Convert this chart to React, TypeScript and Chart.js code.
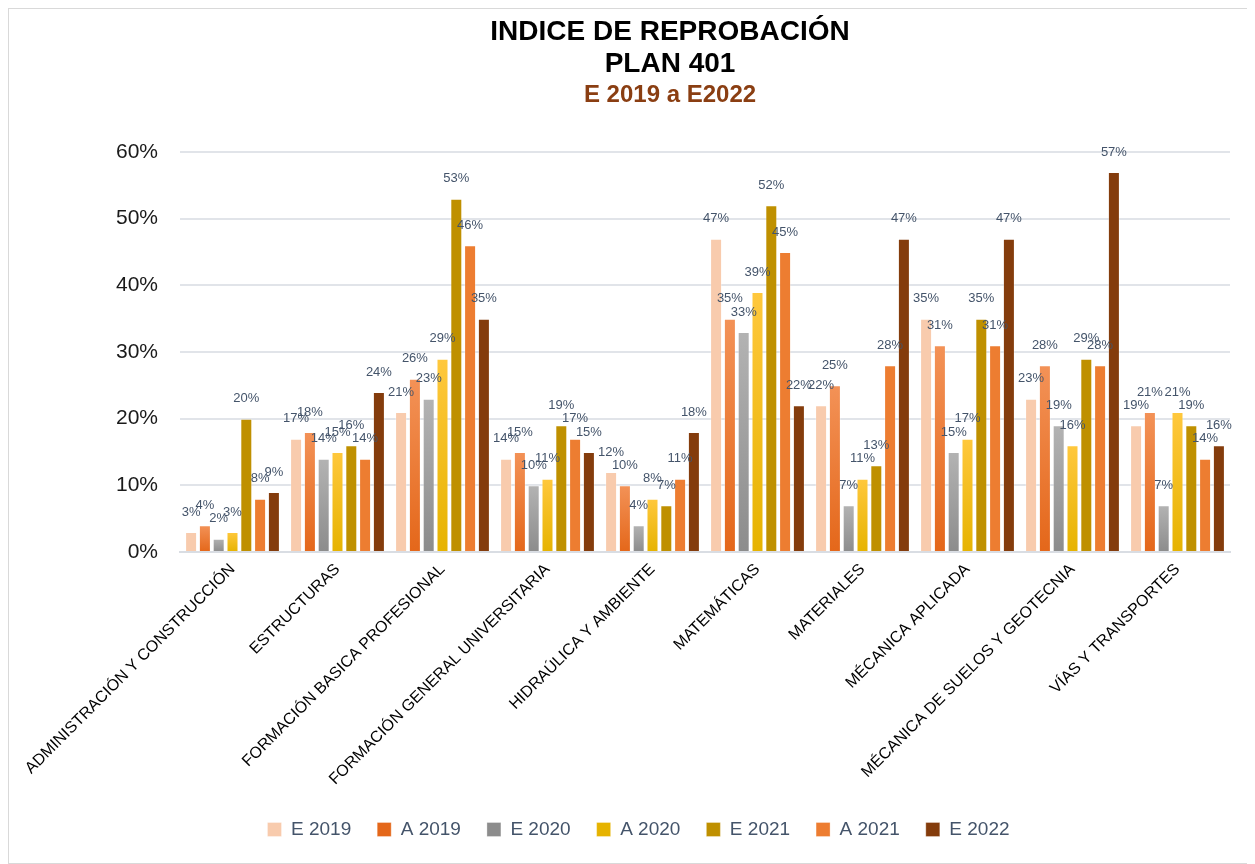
import React, { useEffect, useRef } from "react";
import { Chart, registerables } from "chart.js";

Chart.register(...registerables);

const titleLines = ["INDICE DE REPROBACIÓN", "PLAN 401"];
const subtitleText = "E 2019 a E2022";

const categories = [
  "ADMINISTRACIÓN Y CONSTRUCCIÓN",
  "ESTRUCTURAS",
  "FORMACIÓN BASICA PROFESIONAL",
  "FORMACIÓN GENERAL UNIVERSITARIA",
  "HIDRAÚLICA Y AMBIENTE",
  "MATEMÁTICAS",
  "MATERIALES",
  "MÉCANICA APLICADA",
  "MÉCANICA DE SUELOS Y GEOTECNIA",
  "VÍAS Y TRANSPORTES",
];

const seriesNames = ["E 2019", "A 2019", "E 2020", "A 2020", "E 2021", "A 2021", "E 2022"];

const e2019 = [3, 17, 21, 14, 12, 47, 22, 35, 23, 19];
const a2019 = [4, 18, 26, 15, 10, 35, 25, 31, 28, 21];
const e2020 = [2, 14, 23, 10, 4, 33, 7, 15, 19, 7];
const a2020 = [3, 15, 29, 11, 8, 39, 11, 17, 16, 21];
const e2021 = [20, 16, 53, 19, 7, 52, 13, 35, 29, 19];
const a2021 = [8, 14, 46, 17, 11, 45, 28, 31, 28, 14];
const e2022 = [9, 24, 35, 15, 18, 22, 47, 47, 57, 16];

const yMin = 0;
const yMax = 60;
const yStep = 10;

function vgrad(top: string, bottom: string, solid: string) {
  return (c: any) => {
    const chart = c.chart;
    if (c.type !== "data" || !chart.chartArea || !chart.scales || !chart.scales.y) return solid;
    const y = chart.scales.y;
    const v = c.raw as number;
    const yTop = y.getPixelForValue(v);
    const yBot = y.getPixelForValue(0);
    if (!isFinite(yTop) || !isFinite(yBot) || Math.abs(yTop - yBot) < 1) return solid;
    const g = chart.ctx.createLinearGradient(0, yTop, 0, yBot);
    g.addColorStop(0, top);
    g.addColorStop(1, bottom);
    return g;
  };
}

const titlePlugin = {
  id: "customTitle",
  afterDraw(chart: any) {
    const ctx = chart.ctx;
    ctx.save();
    ctx.textAlign = "center";
    ctx.textBaseline = "middle";
    ctx.fillStyle = "#000000";
    ctx.font = 'bold 28px "Liberation Sans", Arial, sans-serif';
    ctx.fillText(titleLines[0], 661, 23);
    ctx.fillText(titleLines[1], 661, 55);
    ctx.fillStyle = "#8A3E12";
    ctx.font = 'bold 24px "Liberation Sans", Arial, sans-serif';
    ctx.fillText(subtitleText, 661, 86);
    ctx.restore();
  },
};

const legendShiftPlugin = {
  id: "legendShift",
  afterLayout(chart: any) {
    const lg = chart.legend;
    if (lg) {
      lg.left += 19;
      lg.right += 19;
    }
  },
};

const barLabelPlugin = {
  id: "barLabels",
  afterDatasetsDraw(chart: any) {
    const ctx = chart.ctx;
    ctx.save();
    ctx.font = '13px "Liberation Sans", Arial, sans-serif';
    ctx.fillStyle = "#44546A";
    ctx.textAlign = "center";
    ctx.textBaseline = "middle";
    chart.data.datasets.forEach((ds: any, i: number) => {
      const meta = chart.getDatasetMeta(i);
      meta.data.forEach((el: any, j: number) => {
        ctx.fillText(ds.data[j] + "%", el.x, el.y - 20);
      });
    });
    ctx.restore();
  },
};

export default function App() {
  const ref = useRef<HTMLCanvasElement | null>(null);

  useEffect(() => {
    if (!ref.current) return;
    const border = "rgba(255,255,255,0.3)";
    const chart = new Chart(ref.current, {
      type: "bar",
      data: {
        labels: categories,
        datasets: [
          { label: seriesNames[0], data: e2019, backgroundColor: "#F8CBAD", borderColor: border, borderWidth: 1 },
          { label: seriesNames[1], data: a2019, backgroundColor: vgrad("#F39257", "#E4671A", "#EE7B32"), borderColor: border, borderWidth: 1 },
          { label: seriesNames[2], data: e2020, backgroundColor: vgrad("#B3B3B3", "#8C8C8C", "#A5A5A5"), borderColor: border, borderWidth: 1 },
          { label: seriesNames[3], data: a2020, backgroundColor: vgrad("#FFC83D", "#E6B300", "#FFC000"), borderColor: border, borderWidth: 1 },
          { label: seriesNames[4], data: e2021, backgroundColor: "#BF9000", borderColor: border, borderWidth: 1 },
          { label: seriesNames[5], data: a2021, backgroundColor: "#ED7D31", borderColor: border, borderWidth: 1 },
          { label: seriesNames[6], data: e2022, backgroundColor: "#843C0C", borderColor: border, borderWidth: 1 },
        ],
      },
      options: {
        responsive: false,
        animation: false,
        layout: { padding: { top: 143, right: 24, bottom: 14, left: 0 } },
        datasets: {
          bar: { categoryPercentage: 0.92, barPercentage: 0.87 },
        },
        plugins: {
          title: { display: false },
          tooltip: { enabled: false },
          legend: {
            position: "bottom",
            labels: {
              boxWidth: 14,
              boxHeight: 14,
              padding: 26,
              color: "#44546A",
              font: { size: 19, family: '"Liberation Sans", Arial, sans-serif' },
            },
          },
        },
        scales: {
          x: {
            grid: { display: false, drawTicks: false },
            border: { display: true, color: "#D9DDE3", width: 2 },
            ticks: {
              autoSkip: false,
              minRotation: 45,
              maxRotation: 45,
              padding: 8,
              color: "#000000",
              font: { size: 16, family: '"Liberation Sans", Arial, sans-serif' },
            },
            afterFit: (s: any) => {
              s.height = 242;
            },
          },
          y: {
            min: yMin,
            max: yMax,
            ticks: {
              stepSize: yStep,
              padding: 22,
              color: "#1A1A1A",
              font: { size: 21, family: '"Liberation Sans", Arial, sans-serif' },
              callback: (v: any) => v + "%",
            },
            grid: { color: "#E1E4E9", lineWidth: 2, drawTicks: false },
            border: { display: false },
            afterFit: (s: any) => {
              s.width = 171;
            },
          },
        },
      },
      plugins: [titlePlugin, barLabelPlugin, legendShiftPlugin],
    });
    return () => chart.destroy();
  }, []);

  return (
    <div
      style={{
        width: 1247,
        height: 856,
        border: "1px solid #D9D9D9",
        boxSizing: "border-box",
        background: "#FFFFFF",
      }}
    >
      <canvas ref={ref} width={1245} height={854} style={{ display: "block" }} />
    </div>
  );
}
